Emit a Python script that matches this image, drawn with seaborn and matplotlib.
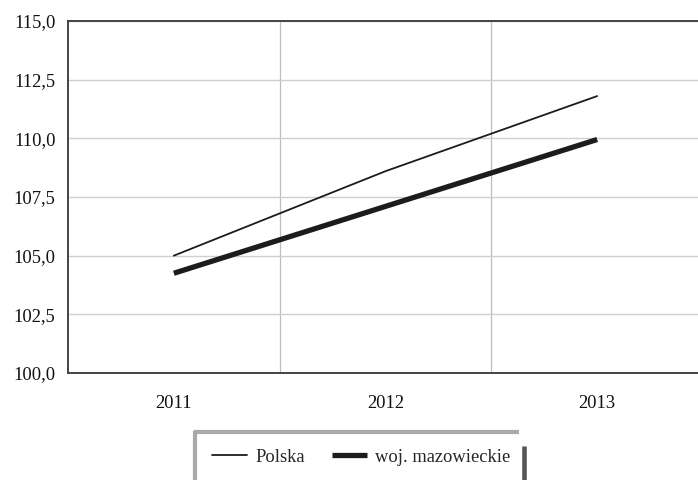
import numpy as np
import pandas as pd
import matplotlib
matplotlib.use("Agg")
import matplotlib.pyplot as plt
from matplotlib.lines import Line2D
import seaborn as sns

# Data
years = ["2011", "2012", "2013"]
polska = [105.0, 108.6, 111.8]
mazowieckie = [104.25, 107.1, 109.95]
y_ticks = [100.0, 102.5, 105.0, 107.5, 110.0, 112.5, 115.0]

df = pd.DataFrame({
    "pos": list(range(len(years))) * 2,
    "value": polska + mazowieckie,
    "series": ["Polska"] * len(years) + ["woj. mazowieckie"] * len(years),
})

sns.set_style("white")
plt.rcParams["font.family"] = ["Liberation Serif", "DejaVu Serif"]
FS = 13.3
plt.rcParams["font.size"] = FS

fig = plt.figure(figsize=(6.98, 4.8), dpi=100)
W, H = 698, 480
ax = fig.add_axes([68 / W, 1 - 373 / H, (703 - 68) / W, (373 - 21) / H])

line_col = "#1c1c1c"
sns.lineplot(data=df[df.series == "Polska"], x="pos", y="value", ax=ax,
             color=line_col, linewidth=1.3, legend=False)
sns.lineplot(data=df[df.series == "woj. mazowieckie"], x="pos", y="value", ax=ax,
             color=line_col, linewidth=3.8, legend=False, solid_capstyle="butt")

ax.set_xlim(-0.5, len(years) - 0.5)
ax.set_ylim(100, 115)
ax.set_xticks(range(len(years)))
ax.set_xticklabels(years)
ax.set_xticks([i + 0.5 for i in range(len(years) - 1)], minor=True)
ax.set_yticks(y_ticks)
ax.set_yticklabels([f"{v:.1f}".replace(".", ",") for v in y_ticks])
ax.set_xlabel("")
ax.set_ylabel("")

ax.grid(False)
ax.yaxis.grid(True, color="#cfcfcf", linewidth=1.0)
ax.xaxis.grid(True, which="minor", color="#bdbdbd", linewidth=0.9)
ax.set_axisbelow(True)

ax.tick_params(axis="y", which="major", length=6, width=1.2, color="#444444",
               direction="out", pad=3, labelcolor="#111111")
ax.tick_params(axis="x", which="both", length=0, pad=16, labelcolor="#111111")
for side in ["left", "top", "bottom", "right"]:
    ax.spines[side].set_color("#444444")
    ax.spines[side].set_linewidth(1.4)

# Legend
handles = [Line2D([], [], color=line_col, linewidth=1.3),
           Line2D([], [], color=line_col, linewidth=3.8, solid_capstyle="butt")]
fig.legend(handles, ["Polska", "woj. mazowieckie"], loc="center",
           bbox_to_anchor=(361 / W, 1 - 457 / H), ncol=2, frameon=False,
           handlelength=1.9, handletextpad=0.45, columnspacing=1.45,
           fontsize=FS)

# legend frame pieces
fig.add_artist(Line2D([193.5 / W, 519 / W], [1 - 432 / H, 1 - 432 / H],
                      transform=fig.transFigure, color="#a9a9a9", linewidth=3,
                      solid_capstyle="butt"))
fig.add_artist(Line2D([195 / W, 195 / W], [1 - 431 / H, 0],
                      transform=fig.transFigure, color="#a9a9a9", linewidth=3,
                      solid_capstyle="butt"))
fig.add_artist(Line2D([523.5 / W, 523.5 / W], [1 - 446 / H, 0],
                      transform=fig.transFigure, color="#555555", linewidth=3.3,
                      solid_capstyle="butt"))

fig.savefig("out.png", dpi=100)
